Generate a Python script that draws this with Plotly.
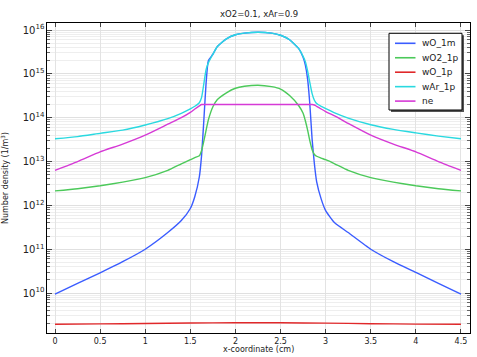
import plotly.graph_objects as go

# ---- data ----
x_cm = [0, 0.25, 0.5, 0.75, 1.0, 1.25, 1.4, 1.5, 1.55, 1.6,
        1.625, 1.65, 1.675, 1.7, 1.75, 1.8, 1.9, 2.0, 2.1, 2.25,
        2.4, 2.5, 2.6, 2.7, 2.75, 2.775, 2.8, 2.825, 2.85, 2.875,
        2.9, 2.95, 3.0, 3.1, 3.25, 3.5, 3.75, 4.0, 4.25, 4.5]

wO_1m = [9.5e9, 1.66e10, 2.9e10, 5.2e10, 1.0e11, 2.4e11, 4.5e11, 8.5e11, 1.6e12, 4.5e12,
         1.4e13, 8.9e13, 6.3e14, 2.0e15, 2.8e15, 4.2e15, 6.3e15, 7.8e15, 8.5e15, 8.9e15,
         8.5e15, 7.6e15, 6.0e15, 3.8e15, 2.4e15, 1.58e15, 7.6e14, 2.0e14, 3.2e13, 8.9e12,
         3.5e12, 1.41e12, 7.6e11, 4.0e11, 2.4e11, 1.0e11, 5.2e10, 2.95e10, 1.66e10, 9.5e9]

wO2_1p = [2.14e12, 2.4e12, 2.8e12, 3.4e12, 4.3e12, 6.3e12, 8.9e12, 1.1e13, 1.23e13, 1.35e13,
          1.78e13, 2.95e13, 5.2e13, 8.9e13, 1.78e14, 2.6e14, 3.7e14, 4.7e14, 5.2e14, 5.5e14,
          5.1e14, 4.5e14, 3.2e14, 1.9e14, 1.26e14, 8.5e13, 5.2e13, 2.95e13, 1.86e13, 1.45e13,
          1.32e13, 1.2e13, 1.1e13, 8.9e12, 6.3e12, 4.3e12, 3.4e12, 2.8e12, 2.4e12, 2.14e12]

wAr_1p = [3.3e13, 3.7e13, 4.4e13, 5.2e13, 6.8e13, 9.5e13, 1.26e14, 1.58e14, 1.82e14, 2.19e14,
          2.9e14, 6.0e14, 1.26e15, 1.78e15, 2.8e15, 4.2e15, 6.3e15, 7.8e15, 8.5e15, 8.9e15,
          8.5e15, 7.6e15, 6.0e15, 3.8e15, 2.5e15, 1.9e15, 1.17e15, 6.3e14, 3.55e14, 2.5e14,
          2.1e14, 1.82e14, 1.62e14, 1.29e14, 9.8e13, 6.9e13, 5.4e13, 4.5e13, 3.8e13, 3.3e13]

ne = [6.3e12, 1.0e13, 1.66e13, 2.5e13, 4.0e13, 7.1e13, 1.0e14, 1.32e14, 1.58e14, 1.86e14,
      2.0e14, 2.0e14, 2.0e14, 2.0e14, 2.0e14, 2.0e14, 2.0e14, 2.0e14, 2.0e14, 2.0e14,
      2.0e14, 2.0e14, 2.0e14, 2.0e14, 2.0e14, 2.0e14, 2.0e14, 2.0e14, 2.0e14, 1.95e14,
      1.82e14, 1.58e14, 1.38e14, 1.1e14, 7.4e13, 4.0e13, 2.5e13, 1.66e13, 1.0e13, 6.3e12]

x_red = [0, 0.5, 1.0, 1.5, 2.0, 2.25, 2.5, 3.0, 3.5, 4.0, 4.5]
wO_1p = [1.95e9, 1.98e9, 2.02e9, 2.07e9, 2.1e9, 2.1e9, 2.1e9, 2.06e9, 2.0e9, 1.96e9, 1.94e9]

x_ticks = [0, 0.5, 1, 1.5, 2, 2.5, 3, 3.5, 4, 4.5]
x_ticktext = ["0", "0.5", "1", "1.5", "2", "2.5", "3", "3.5", "4", "4.5"]

title_text = "xO2=0.1, xAr=0.9"
xlabel = "x-coordinate (cm)"
ylabel = "Number density (1/m<sup>3</sup>)"

# ---- figure ----
FONT = "DejaVu Sans"
TXT = "#222222"
fig = go.Figure()
series = [
    ("wO_1m", x_cm, wO_1m, "#3a5cff"),
    ("wO2_1p", x_cm, wO2_1p, "#4cc95a"),
    ("wO_1p", x_red, wO_1p, "#e0282a"),
    ("wAr_1p", x_cm, wAr_1p, "#2ad9e0"),
    ("ne", x_cm, ne, "#d63ad6"),
]
for name, xs, ys, col in series:
    fig.add_trace(go.Scatter(x=xs, y=ys, name=name, mode="lines",
                             line=dict(color=col, width=1.4, shape="spline", smoothing=0.5)))

# plot area in pixels (for placing the hand-drawn legend box)
L, R, T, B = 47, 470, 23, 333
def px_x(p):
    return (p - L) / (R - L)
def px_y(p):
    return (B - p) / (B - T)

shapes = []
# legend shadow + box
shapes.append(dict(type="rect", xref="paper", yref="paper", layer="above",
                   x0=px_x(391), x1=px_x(464), y0=px_y(112), y1=px_y(35.3),
                   fillcolor="#555555", line=dict(width=0)))
shapes.append(dict(type="rect", xref="paper", yref="paper", layer="above",
                   x0=px_x(389), x1=px_x(462), y0=px_y(110), y1=px_y(33.3),
                   fillcolor="white", line=dict(color="black", width=1)))
annotations = []
row0, step = 43.3, 14.45
for i, (name, xs, ys, col) in enumerate(series):
    yy = px_y(row0 + i * step)
    shapes.append(dict(type="line", xref="paper", yref="paper", layer="above",
                       x0=px_x(395), x1=px_x(415.5), y0=yy, y1=yy,
                       line=dict(color=col, width=1.6)))
    annotations.append(dict(text=name, xref="paper", yref="paper", x=px_x(420), y=yy,
                            xanchor="left", yanchor="middle", showarrow=False,
                            font=dict(size=9, family=FONT, color=TXT)))

annotations.append(dict(text=title_text, xref="paper", yref="paper", x=0.5, y=1.0,
                        yanchor="bottom", yshift=2, showarrow=False,
                        font=dict(size=8.5, family=FONT, color=TXT)))
annotations.append(dict(text=xlabel, xref="paper", yref="paper", x=0.5, y=0,
                        yanchor="top", yshift=-10, showarrow=False,
                        font=dict(size=8, family=FONT, color=TXT)))
annotations.append(dict(text=ylabel, xref="paper", yref="paper", x=0, y=0.5,
                        xanchor="right", xshift=-35, textangle=-90, showarrow=False,
                        font=dict(size=8, family=FONT, color=TXT)))

fig.update_layout(
    width=477, height=357,
    margin=dict(l=L, r=477 - R, t=T, b=357 - B, autoexpand=False),
    paper_bgcolor="white", plot_bgcolor="white",
    font=dict(family=FONT, size=8, color=TXT),
    showlegend=False,
    shapes=shapes,
    annotations=annotations,
)

fig.update_xaxes(range=[-0.0887, 4.6], tickvals=x_ticks, ticktext=x_ticktext,
                 showline=True, linecolor="black", linewidth=1, mirror="ticks",
                 ticks="inside", ticklen=4, tickcolor="#444",
                 showgrid=True, gridcolor="#e3e3e3", gridwidth=1, zeroline=False,
                 automargin=False,
                 tickfont=dict(size=8, family=FONT, color=TXT))
fig.update_yaxes(type="log", range=[9.089, 16.16], dtick=1, exponentformat="power",
                 showline=True, linecolor="black", linewidth=1, mirror="allticks",
                 ticks="inside", ticklen=5, tickcolor="#444",
                 showgrid=True, gridcolor="#e0e0e0", gridwidth=1, zeroline=False,
                 automargin=False,
                 minor=dict(dtick="D1", ticks="inside", ticklen=3, tickcolor="#666",
                            showgrid=True, gridcolor="#eeeeee", gridwidth=1),
                 tickfont=dict(size=8, family=FONT, color=TXT))

fig.write_html("out.html", config={"displayModeBar": False},
               post_script="document.body.style.margin='0';")
